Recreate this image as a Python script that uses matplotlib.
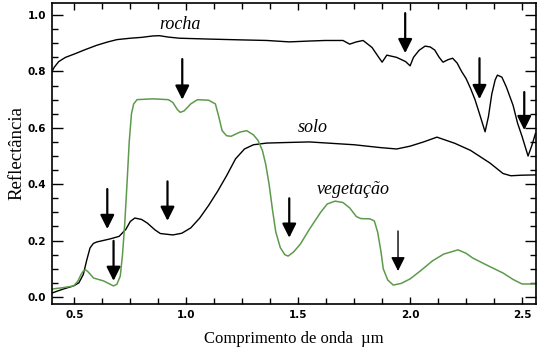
import matplotlib
matplotlib.use("Agg")
import matplotlib.pyplot as plt
from matplotlib.ticker import MultipleLocator, FormatStrFormatter

# rocha (rock) spectrum
rocha_wl = [0.40, 0.41, 0.43, 0.46, 0.50, 0.55, 0.60, 0.65, 0.69, 0.75, 0.80, 0.85, 0.88, 0.92, 0.97, 1.10, 1.25,
            1.36, 1.46, 1.55, 1.62, 1.70, 1.73, 1.76, 1.79, 1.83, 1.86, 1.875, 1.896, 1.94, 1.98, 2.00, 2.015,
            2.04, 2.067, 2.09, 2.11, 2.13, 2.147, 2.17, 2.19, 2.21, 2.23, 2.25, 2.27, 2.29, 2.31, 2.335, 2.35,
            2.365, 2.38, 2.39, 2.41, 2.43, 2.46, 2.48, 2.50, 2.527, 2.545, 2.56]
rocha_r = [0.80, 0.815, 0.835, 0.85, 0.862, 0.878, 0.893, 0.905, 0.913, 0.918, 0.921, 0.926, 0.927, 0.922, 0.918,
           0.915, 0.912, 0.91, 0.905, 0.908, 0.91, 0.91, 0.897, 0.905, 0.91, 0.885, 0.85, 0.833, 0.858, 0.85,
           0.835, 0.82, 0.85, 0.875, 0.89, 0.887, 0.876, 0.85, 0.833, 0.842, 0.847, 0.83, 0.80, 0.775, 0.74,
           0.70, 0.65, 0.586, 0.64, 0.72, 0.77, 0.787, 0.78, 0.745, 0.68, 0.617, 0.57, 0.50, 0.54, 0.58]

# solo (soil) spectrum
solo_wl = [0.40, 0.45, 0.496, 0.52, 0.54, 0.555, 0.57, 0.585, 0.60, 0.66, 0.70, 0.73, 0.75, 0.77, 0.80, 0.826,
           0.86, 0.884, 0.94, 0.98, 1.02, 1.06, 1.10, 1.14, 1.18, 1.22, 1.26, 1.30, 1.36, 1.45, 1.55, 1.65,
           1.75, 1.866, 1.94, 2.00, 2.06, 2.12, 2.20, 2.27, 2.357, 2.415, 2.45, 2.50, 2.56]
solo_r = [0.014, 0.028, 0.039, 0.05, 0.08, 0.13, 0.174, 0.19, 0.195, 0.206, 0.215, 0.24, 0.268, 0.28, 0.275,
          0.262, 0.238, 0.225, 0.22, 0.226, 0.245, 0.28, 0.325, 0.375, 0.43, 0.49, 0.525, 0.54, 0.546, 0.548,
          0.55, 0.545, 0.54, 0.53, 0.525, 0.535, 0.55, 0.567, 0.545, 0.52, 0.475, 0.438, 0.43, 0.432, 0.433]

# vegetação (vegetation) spectrum
veg_wl = [0.40, 0.45, 0.496, 0.515, 0.53, 0.54, 0.55, 0.56, 0.586, 0.63, 0.66, 0.675, 0.69, 0.705, 0.715,
          0.725, 0.735, 0.745, 0.755, 0.765, 0.78, 0.85, 0.92, 0.94, 0.96, 0.973, 0.99, 1.02, 1.05, 1.10,
          1.13, 1.145, 1.16, 1.18, 1.20, 1.24, 1.27, 1.30, 1.32, 1.34, 1.355, 1.37, 1.385, 1.40, 1.42,
          1.44, 1.455, 1.48, 1.51, 1.55, 1.60, 1.63, 1.665, 1.70, 1.73, 1.76, 1.78, 1.82, 1.84, 1.855,
          1.87, 1.88, 1.90, 1.925, 1.96, 2.00, 2.05, 2.10, 2.15, 2.214, 2.25, 2.28, 2.35, 2.415, 2.46,
          2.50, 2.56]
veg_r = [0.028, 0.033, 0.039, 0.055, 0.08, 0.092, 0.096, 0.09, 0.067, 0.057, 0.045, 0.039, 0.045, 0.074, 0.15,
         0.26, 0.40, 0.55, 0.65, 0.685, 0.70, 0.703, 0.70, 0.69, 0.665, 0.655, 0.66, 0.685, 0.70, 0.698,
         0.685, 0.64, 0.59, 0.572, 0.57, 0.585, 0.59, 0.575, 0.556, 0.52, 0.47, 0.40, 0.31, 0.23, 0.175,
         0.15, 0.145, 0.16, 0.188, 0.24, 0.30, 0.33, 0.34, 0.335, 0.316, 0.285, 0.278, 0.277, 0.27, 0.23,
         0.16, 0.10, 0.06, 0.042, 0.048, 0.064, 0.095, 0.128, 0.152, 0.167, 0.155, 0.138, 0.11, 0.085, 0.062,
         0.046, 0.046]

# arrows: wavelength, tail, tip, shaft width
arrow_wl = [0.982, 1.978, 2.31, 2.51, 0.647, 0.675, 0.916, 1.46, 1.946]
arrow_tail = [0.844, 1.007, 0.847, 0.727, 0.383, 0.199, 0.41, 0.35, 0.234]
arrow_tip = [0.70, 0.865, 0.702, 0.592, 0.241, 0.057, 0.27, 0.21, 0.092]
arrow_lw = [1.6, 1.6, 1.6, 1.6, 1.6, 1.6, 1.6, 1.6, 1.0]

labels = ["rocha", "solo", "vegetação"]
label_wl = [0.97, 1.567, 1.745]
label_r = [0.968, 0.60, 0.383]

fig = plt.figure(figsize=(5.4, 3.52), dpi=100)
ax = fig.add_axes([0.0963, 0.1364, 0.8963, 0.8551])

ax.plot(rocha_wl, rocha_r, color="black", lw=1.0)
ax.plot(solo_wl, solo_r, color="black", lw=1.0)
ax.plot(veg_wl, veg_r, color="#5e9a4c", lw=1.1)

for x, t0, t1, lw in zip(arrow_wl, arrow_tail, arrow_tip, arrow_lw):
    ax.annotate("", xy=(x, t1), xytext=(x, t0),
                arrowprops=dict(arrowstyle="-|>,head_length=0.4,head_width=0.2", color="black",
                                lw=lw, mutation_scale=21, shrinkA=0, shrinkB=0))

for txt, x, y in zip(labels, label_wl, label_r):
    ax.text(x, y, txt, ha="center", va="center", style="italic", family="Liberation Serif", fontsize=13)

ax.set_xlim(0.40, 2.5625)
ax.set_ylim(-0.025, 1.043)
ax.xaxis.set_major_locator(MultipleLocator(0.5))
ax.xaxis.set_minor_locator(MultipleLocator(0.125))
ax.yaxis.set_major_locator(MultipleLocator(0.2))
ax.yaxis.set_minor_locator(MultipleLocator(0.05))
ax.xaxis.set_major_formatter(FormatStrFormatter("%.1f"))
ax.yaxis.set_major_formatter(FormatStrFormatter("%.1f"))
ax.tick_params(which="both", direction="in", top=True, right=True, width=1.0)
ax.tick_params(axis="y", which="major", length=8, labelsize=7.5, pad=4)
ax.tick_params(axis="y", which="minor", length=4)
ax.tick_params(axis="x", which="major", length=5, labelsize=7.5, pad=4)
ax.tick_params(axis="x", which="minor", length=4)
for lab in ax.get_xticklabels() + ax.get_yticklabels():
    lab.set_fontweight("bold")
for s in ax.spines.values():
    s.set_linewidth(1.2)

ax.set_xlabel("Comprimento de onda  µm", family="Liberation Serif", fontsize=12, labelpad=8)
ax.set_ylabel("Reflectância", family="Liberation Serif", fontsize=13.5, labelpad=2)

fig.savefig("out.png", dpi=100)
